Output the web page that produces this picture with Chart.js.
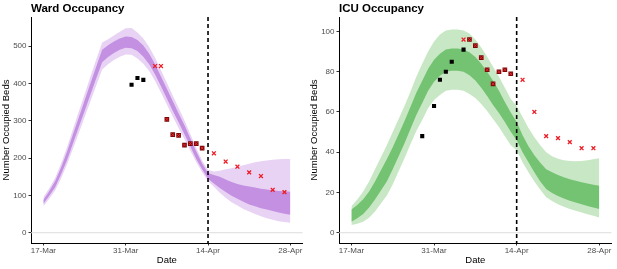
<!DOCTYPE html>
<html>
<head>
<meta charset="utf-8">
<script src="https://cdn.jsdelivr.net/npm/chart.js@4.4.0/dist/chart.umd.min.js"></script>
<style>
  html, body { margin: 0; padding: 0; background: #fff; }
  body { width: 617px; height: 269px; position: relative; overflow: hidden; font-family: "Liberation Sans", Arial, sans-serif; }
  .panel { position: absolute; top: 0; height: 269px; }
  .ttl { position: absolute; top: 2px; left: 31px; font-weight: bold; font-size: 11.5px; line-height: 13px; color: #000; white-space: nowrap; }
</style>
</head>
<body>
<div class="panel" style="left:0;width:308px"><canvas id="ward" width="308" height="269"></canvas><div class="ttl">Ward Occupancy</div></div>
<div class="panel" style="left:308px;width:309px"><canvas id="icu" width="309" height="269"></canvas><div class="ttl">ICU Occupancy</div></div>
<script>
// days since 17-Mar
const days = [0,1,2,3,4,5,6,7,8,9,10,11,12,13,14,15,16,17,18,19,20,21,22,23,24,25,26,27,28,29,30,31,32,33,34,35,36,37,38,39,40,41,42];
const xTickDays = [0, 14, 28, 42];
const xTickLabels = ["17-Mar", "31-Mar", "14-Apr", "28-Apr"];
const cutoffDay = 28;

// Ward bands
const wardOuterLo = [71,91,113,145,182,224,266,309,352,395,438,452,463,472,478,477,467,453,434,407,376,344,312,281,251,220,189,162,139,123,107,94,82,73,64,57,50,44,39,35,31,29,27];
const wardInnerLo = [78,99,122,156,194,238,282,326,370,414,457,471,482,491,496,495,487,472,452,424,393,360,327,296,264,231,198,170,145,132,120,109,99,91,83,76,71,66,62,58,54,51,48];
const wardInnerHi = [88,111,138,174,216,262,308,354,400,446,491,503,513,521,526,525,517,502,480,452,419,386,353,320,288,253,218,186,160,155,150,143,136,131,127,124,121,118,116,114,112,111,110];
const wardOuterHi = [95,119,147,185,228,276,324,371,418,465,510,519,529,539,548,549,537,521,498,469,436,402,368,335,301,264,227,194,168,164,166,170,173,177,181,185,189,192,194,196,197,198,198];
const wardObsDays = [15, 16, 17];
const wardObs = [397, 415, 410];
const wardCrossDays = [19, 20, 29, 31, 33, 35, 37, 39, 41];
const wardCross = [447, 447, 213, 191, 177, 162, 152, 115, 109];
const wardMixDays = [21, 22, 23, 24, 25, 26, 27];
const wardMix = [304, 263, 261, 235, 239, 239, 227];
const wardYTicks = [0, 100, 200, 300, 400, 500];

// ICU bands
const icuOuterLo = [3.8,4.5,5.5,7.5,10.5,14.5,18.5,24,30.5,37,44,50.5,56,62,66,68.5,70.5,71,71,70.5,69,67,64,60.5,56.5,52.5,48,43.5,41,35,30,25.5,21.3,17.6,15.8,14.2,12.9,11.8,10.9,10.1,9.2,8.4,7.6];
const icuInnerLo = [5.5,7.2,9.3,12.5,16.5,21,25.5,31.5,38,44.5,51.5,58.5,64.5,70.5,75,78,80,80.5,80.5,80,78.3,75.7,72,68,63.5,59.5,55,50.2,46,40,35,30,25.5,21.7,19.8,18.2,17,15.9,15,14.1,13.3,12.5,11.8];
const icuInnerHi = [11.5,13.8,16.7,20.5,25.5,31,36.5,42.5,49,55.5,62.5,69.5,75.5,81.5,86,89,91,91.5,91.5,91,89.7,87.3,84,80,75.5,70.5,65,59.8,55,48.5,43,38.5,34.8,31.6,30,28.7,27.6,26.6,25.8,25.1,24.5,23.9,23.3];
const icuOuterHi = [13.2,16.5,20.5,25.5,31.5,37.5,43.5,50,56.5,63,70,77.5,84,90,95,98.5,100.5,101,101,100.5,99,96,92,87.5,82.5,77.5,72,66.5,63,57.5,52,47.5,43.5,40,38,36.8,36,35.7,35.5,35.6,36,36.5,37];
const icuObsDays = [12, 14, 15, 16, 17, 19];
const icuObs = [48, 63, 76, 80, 85, 91];
const icuCrossDays = [19, 29, 31, 33, 35, 37, 39, 41];
const icuCross = [96, 76, 60, 48, 47, 45, 42, 42];
const icuMixDays = [20, 21, 22, 23, 24, 25, 26, 27];
const icuMix = [96, 93, 87, 81, 74, 80, 81, 79];
const icuYTicks = [0, 20, 40, 60, 80, 100];

const XMIN = -2.1, XMAX = 44.1;
const pts = (xs, ys) => xs.map((x, i) => ({ x: x, y: ys[i] }));

function makeChart(id, cfg) {
  const band = (arr, color, fill, order) => ({
    type: 'line', data: pts(days, arr), borderWidth: 0, pointRadius: 0,
    backgroundColor: color, fill: fill, tension: 0, order: order
  });
  const dots = (xs, ys, style, r, fillCol, lineCol, bw, order) => ({
    type: 'line', data: pts(xs, ys), showLine: false, pointStyle: style,
    pointRadius: r, backgroundColor: fillCol, borderColor: lineCol,
    pointBorderWidth: bw, order: order
  });

  new Chart(document.getElementById(id), {
    type: 'line',
    data: {
      datasets: [
        { data: [{ x: XMIN, y: 0 }, { x: XMAX, y: 0 }], borderColor: '#dcdcdc', borderWidth: 1, pointRadius: 0, order: 20 },
        band(cfg.outerLo, cfg.light, false, 10),
        band(cfg.outerHi, cfg.light, '-1', 10),
        band(cfg.innerLo, cfg.dark, false, 8),
        band(cfg.innerHi, cfg.dark, '-1', 8),
        { data: [{ x: cutoffDay, y: cfg.ymin }, { x: cutoffDay, y: cfg.ymax }], borderColor: '#000', borderWidth: 1.6, borderDash: [4, 3], borderDashOffset: 2, pointRadius: 0, order: 6 },
        dots(cfg.obsDays, cfg.obs, 'rect', 2.9, '#000', '#000', 0, 4),
        dots(cfg.mixDays, cfg.mix, 'rect', 3.3, '#7a0808', '#7a0808', 0, 3),
        dots(cfg.mixDays, cfg.mix, 'crossRot', 2, '#e8282e', '#e8282e', 1, 2),
        dots(cfg.crossDays, cfg.cross, 'crossRot', 2.7, '#ee1c25', '#ee1c25', 1.3, 1)
      ]
    },
    options: {
      responsive: false,
      animation: false,
      layout: { padding: { left: 0, top: 17, right: cfg.padRight, bottom: 0 } },
      plugins: { legend: { display: false }, tooltip: { enabled: false } },
      scales: {
        x: {
          type: 'linear', min: XMIN, max: XMAX,
          afterBuildTicks: s => { s.ticks = xTickDays.map(v => ({ value: v })); },
          afterFit: s => { s.height = 26; },
          ticks: { callback: v => xTickLabels[xTickDays.indexOf(v)], color: '#4d4d4d', font: { family: 'Liberation Sans', size: 8 }, padding: 0, maxRotation: 0, autoSkip: false },
          grid: { drawOnChartArea: false, drawTicks: true, tickLength: 2.5, color: '#333' },
          border: { display: true, color: '#000', width: 1 },
          title: { display: true, text: 'Date', color: '#000', font: { family: 'Liberation Sans', size: 9.5 }, padding: { top: 0, bottom: 3 } }
        },
        y: {
          type: 'linear', min: cfg.ymin, max: cfg.ymax,
          afterBuildTicks: s => { s.ticks = cfg.yTicks.map(v => ({ value: v })); },
          afterFit: s => { s.width = 31; },
          ticks: { color: '#4d4d4d', font: { family: 'Liberation Sans', size: 8 }, padding: 2 },
          grid: { drawOnChartArea: false, drawTicks: true, tickLength: 2.5, color: '#333' },
          border: { display: true, color: '#000', width: 1 },
          title: { display: true, text: 'Number Occupied Beds', color: '#000', font: { family: 'Liberation Sans', size: 9.5 }, padding: { top: 1, bottom: 0 } }
        }
      }
    }
  });
}

makeChart('ward', {
  outerLo: wardOuterLo, outerHi: wardOuterHi, innerLo: wardInnerLo, innerHi: wardInnerHi,
  light: '#e8d3f4', dark: '#c390e2',
  obsDays: wardObsDays, obs: wardObs, crossDays: wardCrossDays, cross: wardCross,
  mixDays: wardMixDays, mix: wardMix, yTicks: wardYTicks,
  ymin: -27.5, ymax: 578.5, padRight: 3
});

makeChart('icu', {
  outerLo: icuOuterLo, outerHi: icuOuterHi, innerLo: icuInnerLo, innerHi: icuInnerHi,
  light: '#c8e7c4', dark: '#74c372',
  obsDays: icuObsDays, obs: icuObs, crossDays: icuCrossDays, cross: icuCross,
  mixDays: icuMixDays, mix: icuMix, yTicks: icuYTicks,
  ymin: -5.1, ymax: 107.2, padRight: 4
});
</script>
</body>
</html>
